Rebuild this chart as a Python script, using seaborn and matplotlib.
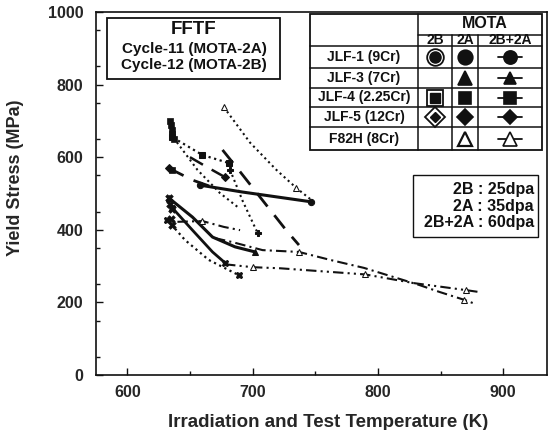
import matplotlib
matplotlib.use("Agg")
import matplotlib.pyplot as plt
import seaborn as sns
import pandas as pd
from matplotlib.patches import Rectangle

# ---------------- data ----------------
# upper cluster
f82h_top_T = [677, 698, 719, 735, 747]
f82h_top_S = [738, 640, 565, 515, 482]
jlf4_T = [634, 636, 660, 681]
jlf4_S = [700, 655, 606, 584]
steep1_T = [637, 656, 674, 688]
steep1_S = [653, 565, 501, 463]
longdash_T = [676, 690, 711, 727, 737]
longdash_S = [620, 560, 468, 398, 358]
steep2_T = [682, 692, 704]
steep2_S = [565, 480, 391]
jlf1_dash_T = [633, 652, 670]
jlf1_dash_S = [570, 537, 515]
jlf1_solid_T = [658, 692, 747]
jlf1_solid_S = [523, 504, 477]
jlf5_T = [650, 664, 678]
jlf5_S = [600, 572, 545]
# lower cluster
solid_a_T = [633, 652, 668, 686, 702]
solid_a_S = [488, 435, 380, 353, 339]
solid_b_T = [636, 652, 668, 678]
solid_b_S = [460, 399, 339, 309]
dot_low_T = [632, 646, 665, 689]
dot_low_S = [427, 372, 317, 275]
f82h_2a_T = [640, 660, 677, 690]
f82h_2a_S = [422, 424, 408, 399]
lineA_T = [670, 684, 708, 737, 762, 789, 833, 849, 869, 876]
lineA_S = [377, 366, 344, 339, 317, 295, 248, 229, 207, 198]
lineB_T = [678, 700, 722, 790, 829, 870, 880]
lineB_S = [305, 297, 294, 277, 253, 234, 229]
# stacked 2B points at ~636 K
stack_up_T = [634, 635, 636, 636, 637, 636]
stack_up_S = [700, 688, 676, 664, 650, 565]
stack_lo_T = [633, 634, 636, 635, 636]
stack_lo_S = [488, 472, 458, 430, 412]

table_rows = ["JLF-1 (9Cr)", "JLF-3 (7Cr)", "JLF-4 (2.25Cr)", "JLF-5 (12Cr)", "F82H (8Cr)"]
table_cols = ["2B", "2A", "2B+2A"]
dpa_lines = ["2B : 25dpa", "2A : 35dpa", "2B+2A : 60dpa"]
fftf_lines = ["FFTF", "Cycle-11 (MOTA-2A)", "Cycle-12 (MOTA-2B)"]

# ---------------- style ----------------
sns.set_theme(style="ticks")
plt.rcParams["font.family"] = ["Liberation Sans", "DejaVu Sans"]
plt.rcParams["font.weight"] = "bold"
K = "#111111"

W, H = 552, 430
fig = plt.figure(figsize=(W / 100, H / 100), dpi=100)
L, R, T, B = 96, 547, 12, 375
ax = fig.add_axes([L / W, (H - B) / H, (R - L) / W, (B - T) / H])

def fx(px):
    return (px - L) / (R - L)

def fy(py):
    return (B - py) / (B - T)

DOT = (1.0, 1.6)
LDASH = (6, 4)
DDOT = (5, 2, 1, 2)
DDDOT = (5, 2, 1, 2, 1, 2)

def line(Tv, Sv, dashes=None, lw=1.6, marker=None, ms=5, mfc=K, markevery=None):
    df = pd.DataFrame({"T": Tv, "S": Sv})
    kw = dict(color=K, lw=lw, sort=False, estimator=None, ax=ax)
    if marker:
        kw.update(marker=marker, markersize=ms, markerfacecolor=mfc,
                  markeredgecolor=K, markevery=markevery)
    sns.lineplot(data=df, x="T", y="S", **kw)
    ln = ax.get_lines()[-1]
    if dashes is not None:
        ln.set_dashes(dashes)

line(f82h_top_T, f82h_top_S, DOT, 1.5, "^", 4.5, "white", [0, 3])
line(jlf4_T, jlf4_S, DOT, 1.6, "s", 4.5, K, [1, 2, 3])
line(steep1_T, steep1_S, DOT, 1.5)
line(longdash_T, longdash_S, LDASH, 2.0)
line(steep2_T, steep2_S, DOT, 1.5, "P", 4.5, K, [0, 2])
line(jlf1_dash_T, jlf1_dash_S, LDASH, 2.0, "D", 4.0, K, [0])
line(jlf1_solid_T, jlf1_solid_S, None, 2.2, "o", 4.5, K, [0, 2])
line(jlf5_T, jlf5_S, LDASH, 1.8, "D", 4.0, K, [2])
line(solid_a_T, solid_a_S, None, 2.2, "^", 4.5, K, [0, 4])
line(solid_b_T, solid_b_S, None, 2.0, "X", 5.0, K, [0, 3])
line(dot_low_T, dot_low_S, DOT, 1.6, "X", 4.5, K, [0, 3])
line(f82h_2a_T, f82h_2a_S, DDOT, 1.5, "^", 5.0, "white", [1])
line(lineA_T, lineA_S, DDOT, 1.5, "^", 5.0, "white", [3, 8])
line(lineB_T, lineB_S, DDDOT, 1.5, "^", 5.0, "white", [1, 3, 5])

sns.scatterplot(x=stack_up_T, y=stack_up_S, ax=ax, color=K, marker="s", s=22,
                edgecolor=K, linewidth=0.5)
sns.scatterplot(x=stack_lo_T, y=stack_lo_S, ax=ax, color=K, marker="X", s=30,
                edgecolor=K, linewidth=0.5)

# ---------------- axes ----------------
ax.set_xlim(575, 935)
ax.set_ylim(0, 1000)
ax.set_xticks([600, 700, 800, 900])
ax.set_yticks([0, 200, 400, 600, 800, 1000])
ax.set_xticks(range(650, 935, 100), minor=True)
ax.set_yticks(range(50, 1000, 100), minor=True)
ax.tick_params(which="both", direction="in", color=K, width=1.0)
ax.tick_params(which="major", length=5, labelsize=11.5, pad=7)
ax.tick_params(which="minor", length=3)
ax.tick_params(axis="y", pad=9)
for lab in ax.get_xticklabels() + ax.get_yticklabels():
    lab.set_fontweight("bold")
for sp in ax.spines.values():
    sp.set_visible(True)
    sp.set_color(K)
    sp.set_linewidth(1.2)
ax.set_xlabel("Irradiation and Test Temperature (K)", fontsize=13.5, fontweight="bold")
ax.set_ylabel("Yield Stress (MPa)", fontsize=13, fontweight="bold")
ax.xaxis.set_label_coords(fx(328), fy(414))
ax.yaxis.set_label_coords(fx(24), fy(178))

tr = ax.transAxes

def box(x0, y0, x1, y1, lw=1.3):
    ax.add_patch(Rectangle((fx(x0), fy(y1)), fx(x1) - fx(x0), fy(y0) - fy(y1),
                           transform=tr, facecolor="white", edgecolor=K,
                           lw=lw, zorder=5))

def seg(x0, y0, x1, y1, lw=1.1):
    ax.plot([fx(x0), fx(x1)], [fy(y0), fy(y1)], transform=tr, color=K, lw=lw,
            zorder=6, clip_on=False)

def txt(px, py, s, size, ha="center"):
    ax.text(fx(px), fy(py), s, transform=tr, ha=ha, va="center",
            fontsize=size, fontweight="bold", color=K, zorder=7)

# FFTF box
box(107, 18, 280, 79)
txt(194, 29, fftf_lines[0], 13.5)
txt(194, 49, fftf_lines[1], 11)
txt(194, 65, fftf_lines[2], 11)

# dpa box
box(413, 175, 538, 237, lw=1.0)
for i, s in enumerate(dpa_lines):
    txt(534, 190 + 16.5 * i, s, 11.5, ha="right")

# legend table
box(310, 14, 542, 150)
seg(418, 35, 542, 35)
seg(310, 46, 542, 46)
row_edges = [46, 68, 88, 107, 127, 150]
for yv in row_edges[1:-1]:
    seg(310, yv, 542, yv)
seg(418, 14, 418, 150)
seg(452, 35, 452, 150)
seg(478, 35, 478, 150)
txt(485, 24, "MOTA", 11.5)
col_x = [435, 465, 510]
for cx, c in zip(col_x, table_cols):
    txt(cx, 40.5, c, 10)
row_y = [(row_edges[i] + row_edges[i + 1]) / 2 for i in range(5)]
for ry, name in zip(row_y, table_rows):
    txt(364, ry, name, 10)

def mk(px, py, m, ms, fc=K, mew=1.2, z=8):
    ax.plot([fx(px)], [fy(py)], marker=m, ms=ms, mfc=fc, mec=K, mew=mew,
            transform=tr, zorder=z, clip_on=False, ls="none")

def sample(py, m, ms, fc=K):
    seg(498, py, 522, py, lw=1.3)
    mk(510, py, m, ms, fc)

# JLF-1
mk(435, row_y[0], "o", 12, "white", 1.3)
mk(435, row_y[0], "o", 8, K, 1.0, 9)
mk(465, row_y[0], "o", 10.5)
sample(row_y[0], "o", 9.5)
# JLF-3
mk(465, row_y[1], "^", 10.5)
sample(row_y[1], "^", 9)
# JLF-4
mk(435, row_y[2], "s", 11, "white", 1.3)
mk(435, row_y[2], "s", 6.5, K, 1.0, 9)
mk(465, row_y[2], "s", 9)
sample(row_y[2], "s", 8)
# JLF-5
mk(435, row_y[3], "D", 10, "white", 1.3)
mk(435, row_y[3], "D", 5, K, 1.0, 9)
mk(465, row_y[3], "D", 8)
sample(row_y[3], "D", 7.5)
# F82H
mk(465, row_y[4], "^", 10.5, "white", 1.6)
sample(row_y[4], "^", 9.5, "white")

fig.savefig("out.png", dpi=100, facecolor="white")
